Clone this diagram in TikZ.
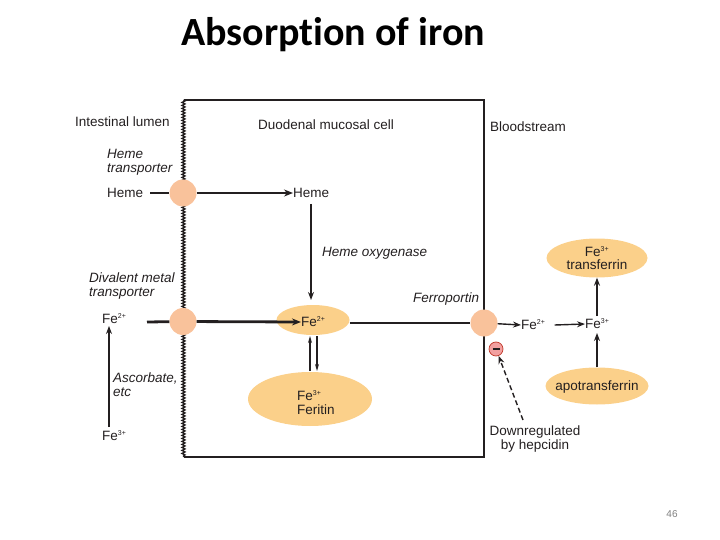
\documentclass[tikz,border=0pt]{standalone}
\usepackage{fontspec}
\setmainfont{Liberation Sans}
\newfontfamily\titlefont[Ligatures=NoCommon]{Carlito}
\usetikzlibrary{arrows.meta,decorations.pathmorphing,shapes.geometric}
\definecolor{peach}{HTML}{F9C29B}
\definecolor{ellfill}{HTML}{FBD08A}
\definecolor{ink}{HTML}{231F20}
\definecolor{minusfill}{HTML}{F2A0A0}
\definecolor{minusdraw}{HTML}{C0392B}
\newcommand{\sps}[1]{\textsuperscript{\scriptsize #1}}
\begin{document}
\begin{tikzpicture}[x=1pt,y=-1pt,
  lbl/.style={font=\fontsize{13.5}{15}\selectfont, text=ink, inner sep=0pt, anchor=west},
  ilbl/.style={lbl, font=\fontsize{13.5}{15}\selectfont\itshape},
  ilbl2/.style={lbl, font=\fontsize{13.5}{15}\selectfont\itshape, align=left},
  clbl/.style={font=\fontsize{13.5}{14}\selectfont, text=ink, inner sep=0pt, align=center},
  transp/.style={circle, fill=peach, minimum size=27pt, inner sep=0pt},
  blob/.style={ellipse, fill=ellfill, inner sep=0pt},
  arr/.style={-{Stealth[length=8pt,width=6pt]}, line width=1.4pt, draw=ink},
  thickarr/.style={-{Stealth[length=9pt,width=7pt]}, line width=2.8pt, draw=ink},
  wall/.style={line width=2pt, draw=ink}
]
\useasboundingbox (0,0) rectangle (720,540);
% title
\node[font=\titlefont\bfseries\fontsize{40}{44}\selectfont, inner sep=0pt] (title) at (333,35) {Absorption of iron};
% cell walls
\coordinate (tl) at (183.5,100);
\coordinate (tr) at (484,100);
\coordinate (br) at (484,457);
\coordinate (bl) at (183.5,457);
\draw[wall] (tl) -- (tr) -- (br) -- (bl);
\draw[line width=1.3pt, draw=ink, decorate, decoration={snake, segment length=3pt, amplitude=1.5pt}] (tl) -- (bl);
% region labels
\node[lbl] (lumen) at (75,122) {Intestinal lumen};
\node[lbl] (cell) at (258,125) {Duodenal mucosal cell};
\node[lbl] (blood) at (490,127) {Bloodstream};
% heme path
\node[ilbl2] (hemetr) at (107,162) {Heme\\[-1pt]transporter};
\node[lbl] (hemeL) at (107,193) {Heme};
\coordinate (hemeS) at (150,193);
\node[transp] (ht) at (183,193) {};
\node[lbl] (hemeC) at (293,193) {Heme};
\draw[line width=2.8pt, draw=ink] (hemeS) -- (ht);
\draw[thickarr] (ht) -- (hemeC.west);
\node[ilbl] (hox) at (322,253) {Heme oxygenase};
% Fe2+ in cell
\node[blob, minimum width=73pt, minimum height=30pt] (fe2e) at (313,320) {};
\node[lbl] (fe2C) at (301,322) {Fe\sps{2+}};
\coordinate (hoxS) at (311,204);
\coordinate (hoxE) at (311,300);
\draw[arr] (hoxS) -- (hoxE);
% divalent metal transporter
\node[ilbl2] (dmt) at (89,286) {Divalent metal\\[-1pt]transporter};
\node[lbl] (fe2L) at (102,319) {Fe\sps{2+}};
\coordinate (fe2S) at (147,322);
\node[transp] (dm) at (183,321.5) {};
\draw[line width=2.8pt, draw=ink] (fe2S) -- (dm);
\draw[thickarr] (dm) -- (fe2C.west);
\node[lbl] (fe3L) at (102,436) {Fe\sps{3+}};
\draw[arr, line width=1.2pt] (109,427) -- (109,326);
\node[ilbl2] (asc) at (113,385) {Ascorbate,\\[-1pt]etc};
% ferritin
\node[blob, minimum width=124pt, minimum height=54pt] (fer) at (310,399) {};
\node[lbl, align=left] (ferT) at (297,403) {Fe\sps{3+}\\[-1pt]Feritin};
\draw[-{Stealth[length=7pt,width=4pt]}, line width=1.4pt, draw=ink] (310,371) -- (310,336);
\draw[-{Stealth[length=7pt,width=4pt]}, line width=1.4pt, draw=ink] (317,336) -- (317,371);
% ferroportin
\node[transp] (fp) at (484,323) {};
\node[ilbl] (fpT) at (413,299) {Ferroportin};
\draw[line width=1.3pt, draw=ink] (fe2e.east |- fp) -- (fp.west);
% bloodstream
\node[lbl] (fe2B) at (521,325) {Fe\sps{2+}};
\node[lbl] (fe3B) at (585,324) {Fe\sps{3+}};
\draw[arr] (fp) -- (fe2B.west);
\draw[arr] (fe2B.east) ++(9,0) -- (fe3B.west);
\node[blob, minimum width=101pt, minimum height=39pt] (tf) at (597,258) {};
\node[clbl] (tfT) at (597,258) {Fe\sps{3+}\\[-1pt]transferrin};
\node[blob, minimum width=103pt, minimum height=37pt] (apo) at (597,386) {};
\node[clbl] (apoT) at (597,387) {apotransferrin};
\draw[arr] (597,316) -- (tf.south);
\draw[arr] (apo.north) -- (597,333);
% hepcidin
\node[circle, fill=minusfill, draw=minusdraw, line width=0.7pt, minimum size=14pt, inner sep=0pt] (minus) at (496,349) {};
\draw[line width=1.2pt, draw=ink] ([xshift=-3.5pt]minus.center) -- ([xshift=3.5pt]minus.center);
\node[lbl, anchor=north, align=center] (hep) at (535,426) {Downregulated\\[-1pt]by hepcidin};
\draw[-{Stealth[length=8pt,width=6pt]}, dash pattern=on 5pt off 3pt, line width=1.4pt, draw=ink] (523,420) -- (minus);
% page number
\node[text=gray, font=\fontsize{10}{10}\selectfont, inner sep=0pt] (pg) at (672,514) {46};
\end{tikzpicture}
\end{document}
